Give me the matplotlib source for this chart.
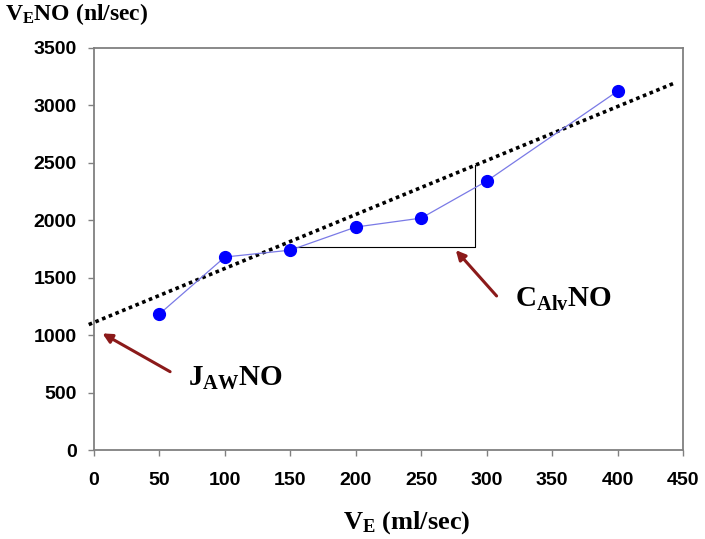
import matplotlib
matplotlib.use('Agg')
import matplotlib.pyplot as plt

# Данные с графика
ve = [50, 100, 150, 200, 250, 300, 400]
veno = [1184, 1680, 1740, 1941, 2019, 2341, 3124]

# Линия регрессии (концы)
fit_x = [-4, 444]
fit_y = [1092, 3197]

# Треугольник наклона
tri_x = [150, 291, 291]
tri_y = [1765, 1765, 2478]

x_ticks = [0, 50, 100, 150, 200, 250, 300, 350, 400, 450]
y_ticks = [0, 500, 1000, 1500, 2000, 2500, 3000, 3500]

plt.rcParams['mathtext.fontset'] = 'custom'
plt.rcParams['mathtext.rm'] = 'Liberation Serif:bold'
plt.rcParams['mathtext.it'] = 'Liberation Serif:bold'
plt.rcParams['mathtext.bf'] = 'Liberation Serif:bold'

fig = plt.figure(figsize=(7.05, 5.39), dpi=100)
ax = fig.add_axes([0.1333, 0.1651, 0.8355, 0.7459])

ax.plot(fit_x, fit_y, color='black', lw=2.6, linestyle=(0, (1, 1)), zorder=2, clip_on=False)
ax.plot(tri_x, tri_y, color='black', lw=0.8, zorder=1)
ax.plot(ve, veno, color='#7a7ae6', lw=0.9, marker='o', markersize=8.5,
        markerfacecolor='#0000ff', markeredgecolor='#0000ff', zorder=3)

ax.set_xlim(0, 450)
ax.set_ylim(0, 3500)
ax.set_xticks(x_ticks)
ax.set_yticks(y_ticks)

for s in ax.spines.values():
    s.set_color('#808080')
    s.set_linewidth(1.3)

ax.tick_params(axis='x', direction='out', length=4, width=1, color='#808080', pad=12)
ax.tick_params(axis='y', direction='out', length=4.5, width=1, color='#808080', pad=8)
for lab in ax.get_xticklabels() + ax.get_yticklabels():
    lab.set_fontfamily('Liberation Sans')
    lab.set_fontweight('bold')
    lab.set_fontsize(14)

# Стрелки
arrow_color = '#8b1a1a'
ax.annotate('', xy=(275, 1758), xytext=(309, 1323),
            arrowprops=dict(arrowstyle='-|>', color=arrow_color, lw=2.2,
                            mutation_scale=14))
ax.annotate('', xy=(4.6, 1027), xytext=(60, 670),
            arrowprops=dict(arrowstyle='-|>', color=arrow_color, lw=2.2,
                            mutation_scale=14))

serif = dict(fontfamily='Liberation Serif', fontweight='bold')
ax.text(322, 1310, r'C$_{\mathrm{Alv}}$NO', fontsize=21, ha='left', va='center', **serif)
ax.text(72, 625, r'J$_{\mathrm{AW}}$NO', fontsize=21, ha='left', va='center', **serif)

fig.text(0.007, 0.974, r'V$_{\mathrm{E}}$NO (nl/sec)', fontsize=17, ha='left', va='center', **serif)
fig.text(0.577, 0.03, r'V$_{\mathrm{E}}$ (ml/sec)', fontsize=19, ha='center', va='center', **serif)

fig.savefig('out.png', dpi=100)
